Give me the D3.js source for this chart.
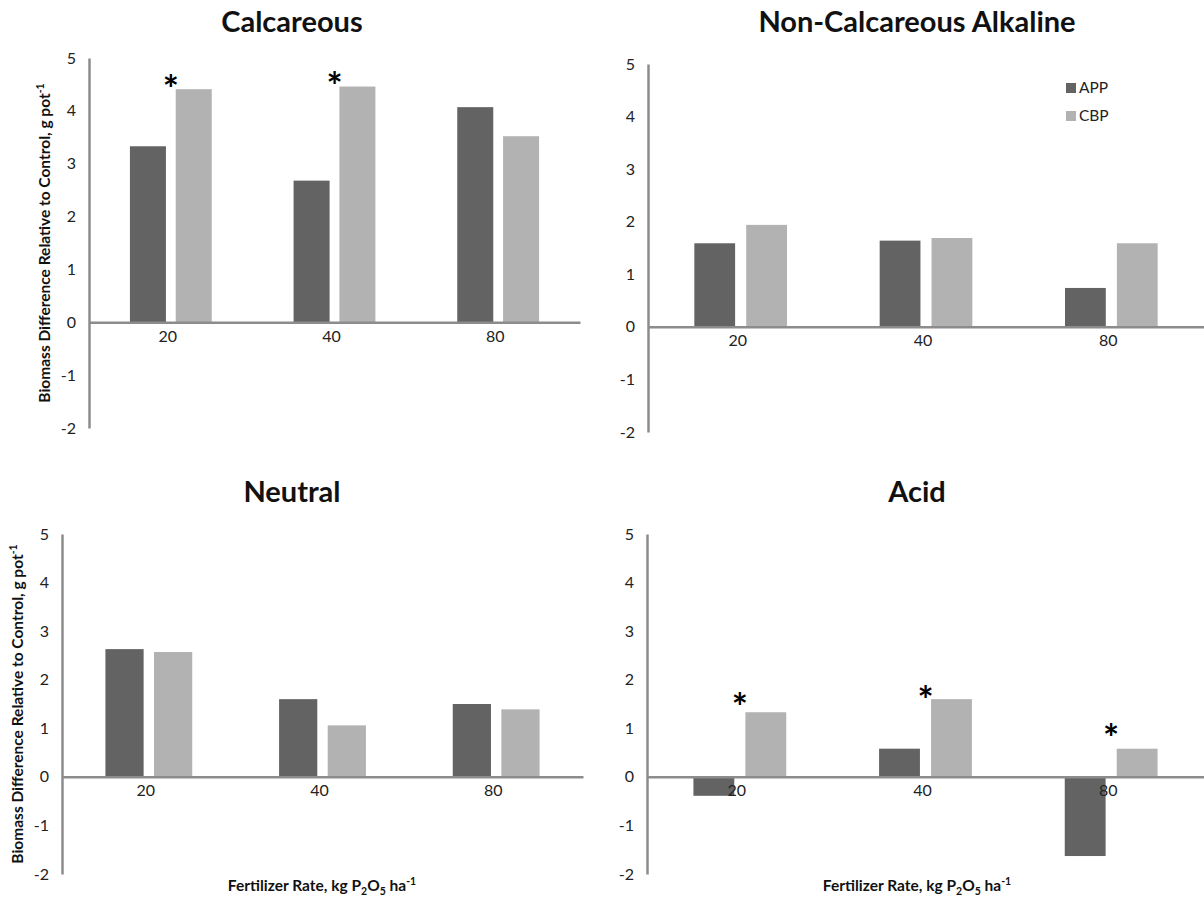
<!DOCTYPE html>
<html><head><meta charset="utf-8">
<script src="https://cdn.jsdelivr.net/npm/d3@7"></script>
<style>body{margin:0;background:#fff}svg{display:block}text{font-family:Lato,"Open Sans",sans-serif}</style>
</head><body><svg id="c" width="1204" height="899"></svg>
<script>
const categories = ["20", "40", "80"];
const seriesNames = ["APP", "CBP"];
const panelTitles = ["Calcareous", "Non-Calcareous Alkaline", "Neutral", "Acid"];
const appValues = [
  [3.33, 2.68, 4.07],
  [1.59, 1.64, 0.74],
  [2.63, 1.60, 1.50],
  [-0.39, 0.58, -1.63]
];
const cbpValues = [
  [4.41, 4.46, 3.52],
  [1.94, 1.69, 1.59],
  [2.57, 1.06, 1.39],
  [1.33, 1.60, 0.58]
];
// significance markers (*) level in data units, null = none
const starLevels = [
  [4.54, 4.60, null],
  [null, null, null],
  [null, null, null],
  [1.59, 1.72, 0.95]
];
const yTicks = [-2, -1, 0, 1, 2, 3, 4, 5];
const yLabel = "Biomass Difference Relative to Control, g pot";
const colors = {APP: "#636363", CBP: "#b2b2b2"};

const layout = [
  {ax: 89, right: 580, top: 58, bottom: 428, titleX: 292, titleY: 22, ylab: {x: 45, y: 243}, xlab: null, legend: false},
  {ax: 648, right: 1204, top: 64, bottom: 432, titleX: 917, titleY: 22, ylab: null, xlab: null, legend: true},
  {ax: 62, right: 583, top: 534, bottom: 874, titleX: 292, titleY: 492, ylab: {x: 18, y: 704}, xlab: {x: 322, y: 886}, legend: false},
  {ax: 647, right: 1204, top: 534, bottom: 874, titleX: 917, titleY: 492, ylab: null, xlab: {x: 917, y: 886}, legend: false}
];

const svg = d3.select("#c");

layout.forEach((L, i) => {
  const g = svg.append("g");
  const y = d3.scaleLinear().domain([-2, 5]).range([L.bottom, L.top]);
  const x0 = d3.scaleBand().domain(categories).range([L.ax, L.right]).padding(0);
  const inner = x0.bandwidth() * 0.5;
  const x1 = d3.scaleBand().domain(seriesNames).range([0, inner]).paddingInner(0.214);
  const offset = (x0.bandwidth() - inner) / 2;

  const rows = categories.map((c, j) => ({cat: c, APP: appValues[i][j], CBP: cbpValues[i][j], star: starLevels[i][j]}));

  rows.forEach(r => {
    seriesNames.forEach(s => {
      const v = r[s];
      g.append("rect")
        .attr("x", x0(r.cat) + offset + x1(s))
        .attr("width", x1.bandwidth())
        .attr("y", y(Math.max(0, v)))
        .attr("height", Math.abs(y(v) - y(0)))
        .attr("fill", colors[s]);
    });
  });

  const yAxis = d3.axisLeft(y).tickValues(yTicks).tickSize(0).tickPadding(13).tickFormat(d => String(d));
  const ya = g.append("g").attr("transform", `translate(${L.ax},0)`).call(yAxis);
  ya.select(".domain").attr("stroke", "#8c8c8c").attr("stroke-width", 2.5);
  ya.selectAll("text").attr("font-size", 16).attr("fill", "#222").style("font-family", "Lato");

  const xa = g.append("g").attr("transform", `translate(0,${y(0)})`)
    .call(d3.axisBottom(x0).tickSize(0).tickPadding(8));
  xa.select(".domain").attr("stroke", "#8c8c8c").attr("stroke-width", 2.5);
  xa.selectAll("text").attr("font-size", 16).attr("fill", "#222").attr("dx", -3).style("font-family", "Lato");

  rows.forEach(r => {
    if (r.star !== null) {
      g.append("text")
        .attr("x", x0(r.cat) + x0.bandwidth() / 2)
        .attr("y", y(r.star) + 21)
        .attr("text-anchor", "middle")
        .attr("font-size", 38).attr("font-weight", "bold")
        .text("*");
    }
  });

  g.append("text").attr("x", L.titleX).attr("y", L.titleY).attr("dy", "0.35em")
    .attr("text-anchor", "middle").attr("font-size", 29).attr("font-weight", "bold")
    .attr("fill", "#111").text(panelTitles[i]);

  if (L.ylab) {
    const t = g.append("text")
      .attr("transform", `translate(${L.ylab.x},${L.ylab.y}) rotate(-90)`)
      .attr("text-anchor", "middle").attr("dy", "0.35em")
      .attr("font-size", 15.5).attr("font-weight", "bold").attr("fill", "#111");
    t.append("tspan").text(yLabel);
    t.append("tspan").attr("font-size", 10.5).attr("dy", "-0.6em").text("-1");
  }
  if (L.xlab) {
    const t = g.append("text").attr("x", L.xlab.x).attr("y", L.xlab.y).attr("dy", "0.35em")
      .attr("text-anchor", "middle").attr("font-size", 15.5).attr("font-weight", "bold").attr("fill", "#111");
    t.append("tspan").text("Fertilizer Rate, kg P");
    t.append("tspan").attr("font-size", 10.5).attr("dy", 4).text("2");
    t.append("tspan").attr("dy", -4).text("O");
    t.append("tspan").attr("font-size", 10.5).attr("dy", 4).text("5");
    t.append("tspan").attr("dy", -4).text(" ha");
    t.append("tspan").attr("font-size", 10.5).attr("dy", -6).text("-1");
  }
  if (L.legend) {
    const lg = g.append("g");
    seriesNames.forEach((s, k) => {
      lg.append("rect").attr("x", 1066).attr("y", 83 + k * 28).attr("width", 10).attr("height", 10).attr("fill", colors[s]);
      lg.append("text").attr("x", 1079).attr("y", 88 + k * 28).attr("dy", "0.35em")
        .attr("font-size", 15.5).attr("fill", "#222").text(s);
    });
  }
});
</script></body></html>
